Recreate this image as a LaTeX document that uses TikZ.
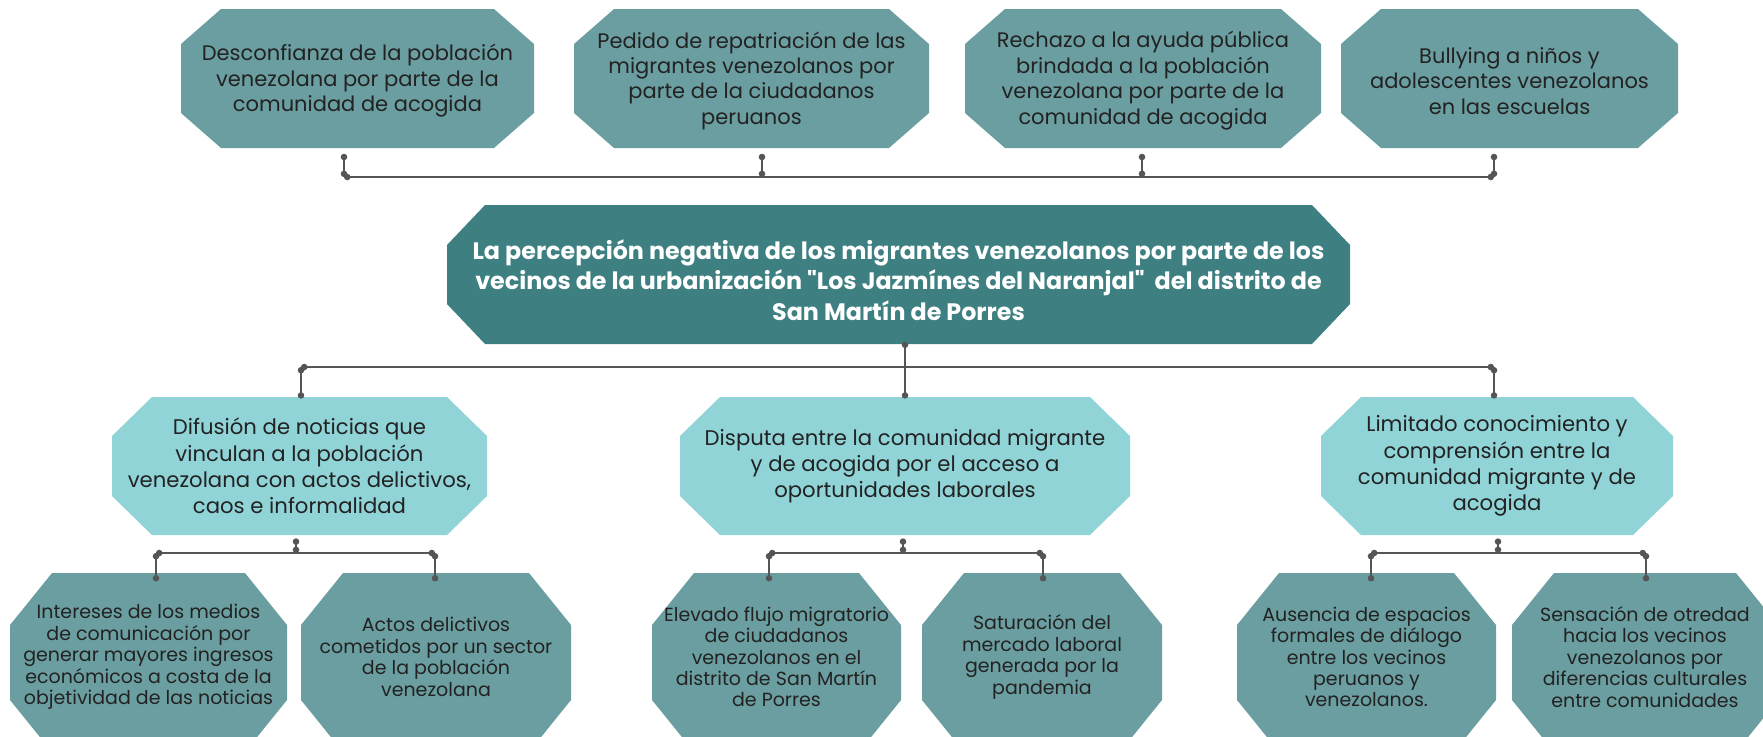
\documentclass[tikz,border=0pt]{standalone}
\usepackage{fontspec}
\setmainfont{Poppins}[Ligatures=TeXOff]
\usepackage{tikz}
\usetikzlibrary{arrows.meta,calc}
\definecolor{effectcol}{HTML}{6B9EA0}
\definecolor{problemcol}{HTML}{3E8082}
\definecolor{causecol}{HTML}{90D4D8}
\definecolor{linkcol}{HTML}{555555}
\definecolor{textcol}{HTML}{222222}

\begin{document}
\begin{tikzpicture}[x=0.5pt,y=-0.5pt]
\tikzset{octo/.style n args={5}{path picture={
	\fill[#1] ([xshift=#2,yshift=-#4]path picture bounding box.north west)
		-- ([xshift=-#2,yshift=-#4]path picture bounding box.north east)
		-- ([yshift=-#3-#4]path picture bounding box.north east)
		-- ([yshift=#3+#5]path picture bounding box.south east)
		-- ([xshift=-#2,yshift=#5]path picture bounding box.south east)
		-- ([xshift=#2,yshift=#5]path picture bounding box.south west)
		-- ([yshift=#3+#5]path picture bounding box.south west)
		-- ([yshift=-#3-#4]path picture bounding box.north west) -- cycle;}}}
\tikzstyle{effect} = [octo={effectcol}{20pt}{17.5pt}{0pt}{2.2pt}, minimum height=71.7pt, inner sep=0pt, align=center, text=textcol, font=\fontsize{10.5}{12.7}\selectfont]
\tikzstyle{problem} = [octo={problemcol}{19pt}{20pt}{0pt}{5.6pt}, minimum height=75.1pt, inner sep=0pt, align=center, text=white, font=\fontsize{11.9}{15.3}\selectfont\bfseries]
\tikzstyle{cause} = [octo={causecol}{20pt}{19.5pt}{0pt}{0pt}, minimum height=69pt, inner sep=0pt, align=center, text=textcol, font=\fontsize{10.6}{13.1}\selectfont]
\tikzstyle{subcause} = [octo={effectcol}{21pt}{26pt}{5.6pt}{0pt}, minimum height=95.1pt, inner sep=0pt, align=center, text=textcol, font=\fontsize{9.5}{10.7}\selectfont]
\tikzstyle{link} = [draw=linkcol, line width=1pt, {Circle[length=3.2pt]}-{Circle[length=3.2pt]}]
\useasboundingbox (0,0) rectangle (1763,736);
\clip (0,0) rectangle (1763,736);

\node[effect, minimum width=176.5pt] (e1) at (357.5,80.7) {Desconfianza de la población\\venezolana por parte de la\\comunidad de acogida};
\node[effect, minimum width=177.5pt] (e2) at (751.5,80.7) {Pedido de repatriación de las\\migrantes venezolanos por\\parte de la ciudadanos\\peruanos};
\node[effect, minimum width=178pt] (e3) at (1143,80.7) {Rechazo a la ayuda pública\\brindada a la población\\venezolana por parte de la\\comunidad de acogida};
\node[effect, minimum width=168.5pt] (e4) at (1509.5,80.7) {Bullying a niños y\\adolescentes venezolanos\\en las escuelas};

\node[problem, minimum width=451.5pt] (p) at (898.5,280.1) {La percepción negativa de los migrantes venezolanos por parte de los\\vecinos de la urbanización "Los Jazmínes del Naranjal"\ \ del distrito de\\San Martín de Porres};

\node[cause, minimum width=187.5pt] (c1) at (299.5,466) {Difusión de noticias que\\vinculan a la población\\venezolana con actos delictivos,\\caos e informalidad};
\node[cause, minimum width=225pt] (c2) at (905,466) {Disputa entre la comunidad migrante\\y de acogida por el acceso a\\oportunidades laborales};
\node[cause, minimum width=176pt] (c3) at (1497,466) {Limitado conocimiento y\\comprensión entre la\\comunidad migrante y de\\acogida};

\node[subcause, minimum width=138.5pt] (s1) at (148.5,656.9) {Intereses de los medios\\de comunicación por\\generar mayores ingresos\\económicos a costa de la\\objetividad de las noticias};
\node[subcause, minimum width=135pt] (s2) at (436,656.9) {Actos delictivos\\cometidos por un sector\\de la población\\venezolana};
\node[subcause, minimum width=124.5pt] (s3) at (776.5,656.9) {Elevado flujo migratorio\\de ciudadanos\\venezolanos en el\\distrito de San Martín\\de Porres};
\node[subcause, minimum width=120pt] (s4) at (1042,656.9) {Saturación del\\mercado laboral\\generada por la\\pandemia};
\node[subcause, minimum width=129.5pt] (s5) at (1366.5,656.9) {Ausencia de espacios\\formales de diálogo\\entre los vecinos\\peruanos y\\venezolanos.};
\node[subcause, minimum width=133pt] (s6) at (1645,656.9) {Sensación de otredad\\hacia los vecinos\\venezolanos por\\diferencias culturales\\entre comunidades};

\coordinate (t1) at (344,177);
\coordinate (t2) at (762,177);
\coordinate (t3) at (1142,177);
\coordinate (t4) at (1494,177);
\draw[link] (t1) -- (t4);
\draw[link] ($(e1.south -| t1)+(0,1)$) -- (t1);
\draw[link] ($(e2.south -| t2)+(0,1)$) -- (t2);
\draw[link] ($(e3.south -| t3)+(0,1)$) -- (t3);
\draw[link] ($(e4.south -| t4)+(0,1)$) -- (t4);

\coordinate (ml) at (301,367);
\coordinate (mr) at (1494,367);
\draw[link] ($(p.south -| c2)+(0,-14)$) -- ($(c2.north)+(0,2)$);
\draw[link] (ml) -- (mr);
\draw[link] (ml) -- ($(c1.north -| ml)+(0,2)$);
\draw[link] (mr) -- ($(c3.north -| mr)+(0,2)$);

\coordinate (a0) at (296,553);
\coordinate (al) at (156,553);
\coordinate (ar) at (435,553);
\draw[link] ($(c1.south -| a0)+(0,3)$) -- (a0);
\draw[link] (al) -- (ar);
\draw[link] (al) -- ($(s1.north -| al)+(0,20)$);
\draw[link] (ar) -- ($(s2.north -| ar)+(0,20)$);

\coordinate (b0) at (903,553);
\coordinate (bl) at (769,553);
\coordinate (br) at (1043,553);
\draw[link] ($(c2.south -| b0)+(0,3)$) -- (b0);
\draw[link] (bl) -- (br);
\draw[link] (bl) -- ($(s3.north -| bl)+(0,20)$);
\draw[link] (br) -- ($(s4.north -| br)+(0,20)$);

\coordinate (d0) at (1498,553);
\coordinate (dl) at (1371,553);
\coordinate (dr) at (1646,553);
\draw[link] ($(c3.south -| d0)+(0,3)$) -- (d0);
\draw[link] (dl) -- (dr);
\draw[link] (dl) -- ($(s5.north -| dl)+(0,20)$);
\draw[link] (dr) -- ($(s6.north -| dr)+(0,20)$);
\end{tikzpicture}
\end{document}
